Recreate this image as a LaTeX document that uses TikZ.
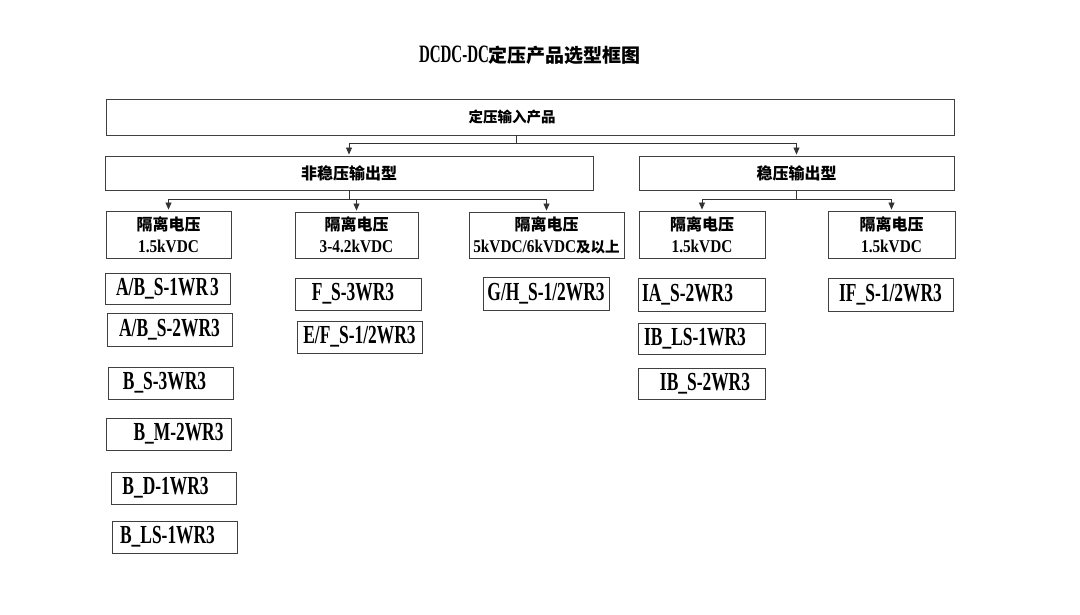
\documentclass[tikz,border=0pt]{standalone}
\usepackage{fontspec}
\usetikzlibrary{arrows.meta}
\setmainfont{Liberation Serif}
\newfontfamily\cjk{Noto Sans CJK SC}
\newfontfamily\latT{Liberation Serif}[FakeStretch=0.6]
\newfontfamily\latM{Liberation Serif}[FakeStretch=0.67]
\newfontfamily\latV{Liberation Serif}[FakeStretch=0.85]
\newcommand\CJ[2]{{\cjk\bfseries\fontsize{#1}{#1}\selectfont #2}}
\begin{document}
\begin{tikzpicture}[x=1pt,y=-1pt,
  box/.style={draw=black!75, line width=0.9pt, inner sep=0pt, rectangle},
  model/.style={box, font=\latM\bfseries\fontsize{26}{26}\selectfont},
  volt/.style={box, align=center, font=\latV\bfseries\fontsize{18}{22}\selectfont},
  conn/.style={line width=0.8pt, draw=black!80},
  arr/.style={conn, -{Triangle[length=7pt,width=6pt]}, shorten >=1pt}]
\fill[white] (0,0) rectangle (1080,614);
\useasboundingbox (0,0) rectangle (1080,614);

% title
\node (title) at (530,55) {\latT\bfseries\fontsize{25}{25}\selectfont DCDC-DC\CJ{19}{定压产品选型框图}};

% level 1
\node[box, minimum width=848pt, minimum height=36pt] (top) at (530,117) {\CJ{14.5}{定压输入产品}\kern36pt};

% level 2
\node[box, minimum width=488pt, minimum height=34pt] (unst) at (349,173) {\CJ{16}{非稳压输出型}};
\node[box, minimum width=315pt, minimum height=34pt] (st) at (796.5,173) {\CJ{16}{稳压输出型}};

% level 3
\node[volt, minimum width=125pt, minimum height=47pt] (ga) at (168.5,234.5) {\CJ{16}{隔离电压}\\1.5kVDC};
\node[volt, minimum width=123pt, minimum height=46pt] (gb) at (356.5,235) {\CJ{16}{隔离电压}\\3-4.2kVDC};
\node[volt, minimum width=155pt, minimum height=46pt] (gc) at (546.5,235) {\CJ{16}{隔离电压}\\5kVDC/6kVDC\CJ{14.5}{及以上}};
\node[volt, minimum width=126pt, minimum height=47pt] (gd) at (702,234.5) {\CJ{16}{隔离电压}\\1.5kVDC};
\node[volt, minimum width=127pt, minimum height=47pt] (ge) at (891.5,234.5) {\CJ{16}{隔离电压}\\1.5kVDC};

% models
\node[model, minimum width=125pt, minimum height=31pt] (m1) at (167.5,288.5) {A/B\_S-1WR\kern2pt 3};
\node[model, minimum width=125pt, minimum height=33pt] (m2) at (169.5,329.5) {A/B\_S-2WR3};
\node[model, minimum width=125pt, minimum height=32pt] (m3) at (170.5,383) {B\_S-3WR3\kern12pt};
\node[model, minimum width=125pt, minimum height=32pt] (m4) at (168.5,434) {\kern20pt B\_M-2WR3};
\node[model, minimum width=125pt, minimum height=32pt] (m5) at (173.5,488) {B\_D-1WR3\kern16pt};
\node[model, minimum width=125pt, minimum height=32pt] (m6) at (174.5,537) {B\_LS-1WR3\kern14pt};
\node[model, minimum width=126pt, minimum height=32pt] (m7) at (358,294) {F\_S-3WR3\kern10pt};
\node[model, minimum width=125pt, minimum height=32pt] (m8) at (359.5,337) {E/F\_S-1/2WR3};
\node[model, minimum width=126pt, minimum height=33pt] (m9) at (546,293.5) {G/H\_S-1/2WR3};
\node[model, minimum width=127pt, minimum height=33pt] (m10) at (701.5,294.5) {IA\_S-2WR3\kern28pt};
\node[model, minimum width=127pt, minimum height=31pt] (m11) at (701.5,338.5) {IB\_LS-1WR3\kern13pt};
\node[model, minimum width=127pt, minimum height=31pt] (m12) at (701.5,383.5) {\kern7pt IB\_S-2WR3};
\node[model, minimum width=125pt, minimum height=33pt] (m13) at (890.5,294.5) {IF\_S-1/2WR3};

% connectors
\coordinate (j1) at (516,143);
\draw[conn] (top.south -| j1) -- (j1);
\draw[arr] (j1) -| (unst.north);
\draw[arr] (j1) -| (st.north);

\coordinate (j2) at (349,199);
\draw[conn] (unst.south) -- (j2);
\draw[arr] (j2) -| (ga.north);
\draw[arr] (j2) -| (gb.north);
\draw[arr] (j2) -| (gc.north);

\coordinate (j3) at (796.5,199);
\draw[conn] (st.south) -- (j3);
\draw[arr] (j3) -| (gd.north);
\draw[arr] (j3) -| (ge.north);
\end{tikzpicture}
\end{document}
